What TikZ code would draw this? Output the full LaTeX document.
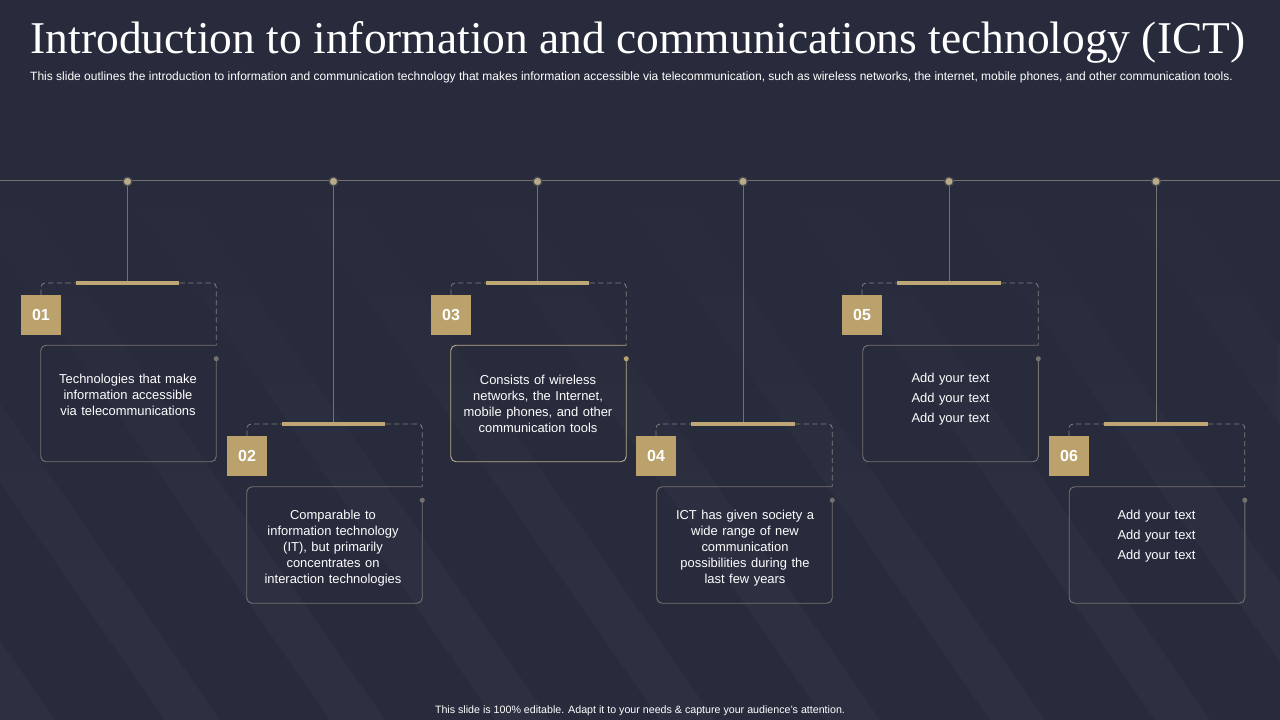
\documentclass[tikz,border=0pt]{standalone}
\usepackage{fontspec}
\usetikzlibrary{calc,fadings}
\setmainfont{Liberation Sans}
\newfontfamily\titlefont{Liberation Serif}
\newfontfamily\cardfont[WordSpace=1.25]{Liberation Sans}
\definecolor{slide}{HTML}{282B3C}
\definecolor{band}{HTML}{2D3041}
\definecolor{gold}{HTML}{BBA26D}
\definecolor{rule}{HTML}{75716F}
\definecolor{dotc}{HTML}{B8AB88}
\tikzset{
	numbox/.style={fill=gold, text=white, minimum width=30pt, minimum height=29.5pt,
		inner sep=0pt, font=\bfseries\fontsize{12}{14}\selectfont},
	cardbox/.style={minimum width=131.25pt, minimum height=87pt, inner sep=0pt},
	cardline/.style={draw=#1, line width=0.7pt, rounded corners=4pt},
	msgtext/.style={align=center, text=white, inner sep=0pt, font=\cardfont\fontsize{9.7}{12}\selectfont},
	barbox/.style={fill=gold!95!white, minimum width=77.5pt, minimum height=3pt, inner sep=0pt},
	railpt/.style={circle, fill=dotc, draw=rule!45!slide, line width=0.9pt, minimum size=6.5pt, inner sep=0pt},
	sidept/.style={circle, fill=#1, minimum size=3.8pt, inner sep=0pt},
	stem/.style={draw=rule, line width=0.7pt},
	dashline/.style={draw=rule!90!white, line width=0.6pt, dash pattern=on 4pt off 2.5pt, rounded corners=3pt},
}
\begin{document}
\begin{tikzpicture}[x=0.75pt, y=-0.75pt]
\useasboundingbox (0,0) rectangle (1280,720);
\fill [slide] (0,0) rectangle (1280,720);

% background bands, dying out towards the top
\begin{scope}
\clip (0,0) rectangle (1280,720);
\foreach \s in {-500,-335,-170,-5,160,325,490,655,820,985,1150}
	\fill [band] (\s,0) -- ++(55,0) -- ++(500,720) -- ++(-55,0) -- cycle;
\fill [slide] (0,0) rectangle (1280,200);
\fill [slide, path fading=south] (0,120) rectangle (1280,560);
\end{scope}

\node (title) at (638,42.5) [text=white, font=\titlefont\fontsize{34.1}{38}\selectfont]
	{Introduction to information and communications technology (ICT)};
\node (intro) at (631.5,77.5) [text=white, font=\fontsize{9}{10}\selectfont]
	{This slide outlines the introduction to information and communication technology that makes information accessible via telecommunication, such as wireless networks, the internet, mobile phones, and other communication tools.};
\node (foot) at (640,710.5) [text=white, font=\fontsize{8}{9}\selectfont]
	{This slide is 100\% editable. Adapt it to your needs \& capture your audience's attention.};

\coordinate (railL) at (0,180.5);
\coordinate (railR) at (1280,180.5);
\draw [stem] (railL) -- (railR);

\foreach \i/\sx/\nx/\cx/\by/\cy/\tx/\ty/\cc/\pc/\msg in {
	01/127.5/41/128.5/283/403.5/128/394.5/rule/rule/{Technologies that make\\information accessible\\via telecommunications},
	02/333.5/247/334.5/424/545/333/548/rule/rule/{Comparable to\\information technology\\(IT), but primarily\\concentrates on\\interaction technologies},
	03/537.5/451/538.5/283/403.5/538/403.5/dotc/gold/{Consists of wireless\\networks, the Internet,\\mobile phones, and other\\communication tools},
	04/743/656/744.5/424/545/745/548/rule/rule/{ICT has given society a\\wide range of new\\communication\\possibilities during the\\last few years},
	05/949/862/950.5/283/403.5/950.5/399.5/rule/rule/{Add your text\\[3pt]Add your text\\[3pt]Add your text},
	06/1156/1069/1157/424/545/1156.5/536.5/rule/rule/{Add your text\\[3pt]Add your text\\[3pt]Add your text}}
{
	\node (card\i) at (\cx,\cy) [cardbox] {};
	\node (msg\i) at (\tx,\ty) [msgtext] {\msg};
	\node (num\i) at (\nx,\by+32) [numbox] {\i};
	\node (bar\i) at (\sx,\by) [barbox] {};
	\node (rail\i) at (\sx,181.5) [railpt] {};
	\node (side\i) at ($(card\i.north east)+(0,13.5)$) [sidept=\pc] {};
	\draw [stem] (rail\i) -- (bar\i);
	\draw [cardline=\cc] (side\i.center) |- (card\i.south west) |- (card\i.north east);
	\draw [dashline] (num\i.north) |- (bar\i.west);
	\draw [dashline] (bar\i.east) -| (card\i.north east);
}
\end{tikzpicture}
\end{document}
